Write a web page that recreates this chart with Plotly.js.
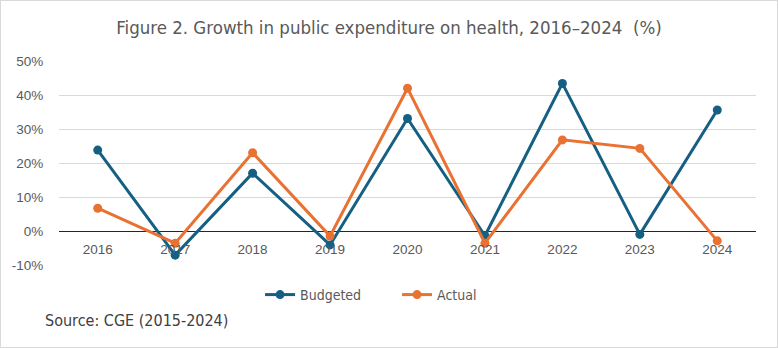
<!DOCTYPE html>
<html>
<head>
<meta charset="utf-8">
<script src="https://cdn.plot.ly/plotly-3.0.1.min.js"></script>
<style>
html,body{margin:0;padding:0;background:#fff;}
#wrap{position:relative;width:778px;height:348px;}
#chart{width:778px;height:348px;}
#frame{position:absolute;left:0;top:0;width:776px;height:346px;border:1px solid #d9d9d9;pointer-events:none;}
</style>
</head>
<body>
<div id="wrap"><div id="chart"></div><div id="frame"></div></div>
<script>
const years = ['2016','2017','2018','2019','2020','2021','2022','2023','2024'];
const budgeted = [23.8, -7.1, 17.0, -4.1, 33.1, -1.4, 43.4, -1.0, 35.6];
const actual = [6.7, -3.6, 23.0, -1.5, 42.0, -3.6, 26.8, 24.3, -2.9];
const yTickVals = [-10, 0, 10, 20, 30, 40, 50];
const yTickText = ['-10%', '0%', '10%', '20%', '30%', '40%', '50%'];

const narrow = '"DejaVu Sans Condensed", "Liberation Sans Narrow", sans-serif';
const grey = '#595959';

const traces = [
  {x: years, y: budgeted, name: 'Budgeted', type: 'scatter', mode: 'lines+markers',
   line: {color: '#156082', width: 3}, marker: {color: '#156082', size: 9}},
  {x: years, y: actual, name: 'Actual', type: 'scatter', mode: 'lines+markers',
   line: {color: '#E97132', width: 3}, marker: {color: '#E97132', size: 9}}
];

const layout = {
  width: 778, height: 348,
  margin: {l: 59, r: 22, t: 61, b: 83, autoexpand: false},
  paper_bgcolor: '#fff', plot_bgcolor: '#fff',
  showlegend: true,
  title: {text: 'Figure 2. Growth in public expenditure on health, 2016–2024  (%)',
          font: {family: narrow, size: 18.5, color: grey}, x: 0.5, xanchor: 'center', xref: 'container',
          y: 0.92, yanchor: 'middle'},
  xaxis: {type: 'category', range: [-0.5, 8.5], showgrid: false, zeroline: false, showline: false,
          anchor: 'free', position: 1/6, ticks: 'outside', ticklen: 6, tickcolor: 'rgba(0,0,0,0)',
          tickfont: {family: '"Liberation Sans", Arial, sans-serif', size: 13.5, color: grey}, fixedrange: true},
  yaxis: {range: [-10, 50], tickvals: yTickVals, ticktext: yTickText, showgrid: true, gridcolor: '#d9d9d9', gridwidth: 1,
          zeroline: true, zerolinecolor: '#262626', zerolinewidth: 1, showline: false,
          ticks: 'outside', ticklen: 12, tickcolor: 'rgba(0,0,0,0)',
          tickfont: {family: '"Liberation Sans", Arial, sans-serif', size: 13.5, color: grey}, fixedrange: true},
  legend: {orientation: 'h', x: 0.485, xanchor: 'center', y: -0.147, yanchor: 'middle',
           font: {family: narrow, size: 14, color: grey}, entrywidth: 92, tracegroupgap: 0},
  annotations: [{text: 'Source: CGE (2015-2024)', xref: 'paper', yref: 'paper', x: -16/697, y: -0.27,
                 xanchor: 'left', yanchor: 'middle', showarrow: false,
                 font: {family: narrow, size: 16, color: '#404040'}}]
};

Plotly.newPlot('chart', traces, layout, {displayModeBar: false, staticPlot: true});
</script>
</body>
</html>
